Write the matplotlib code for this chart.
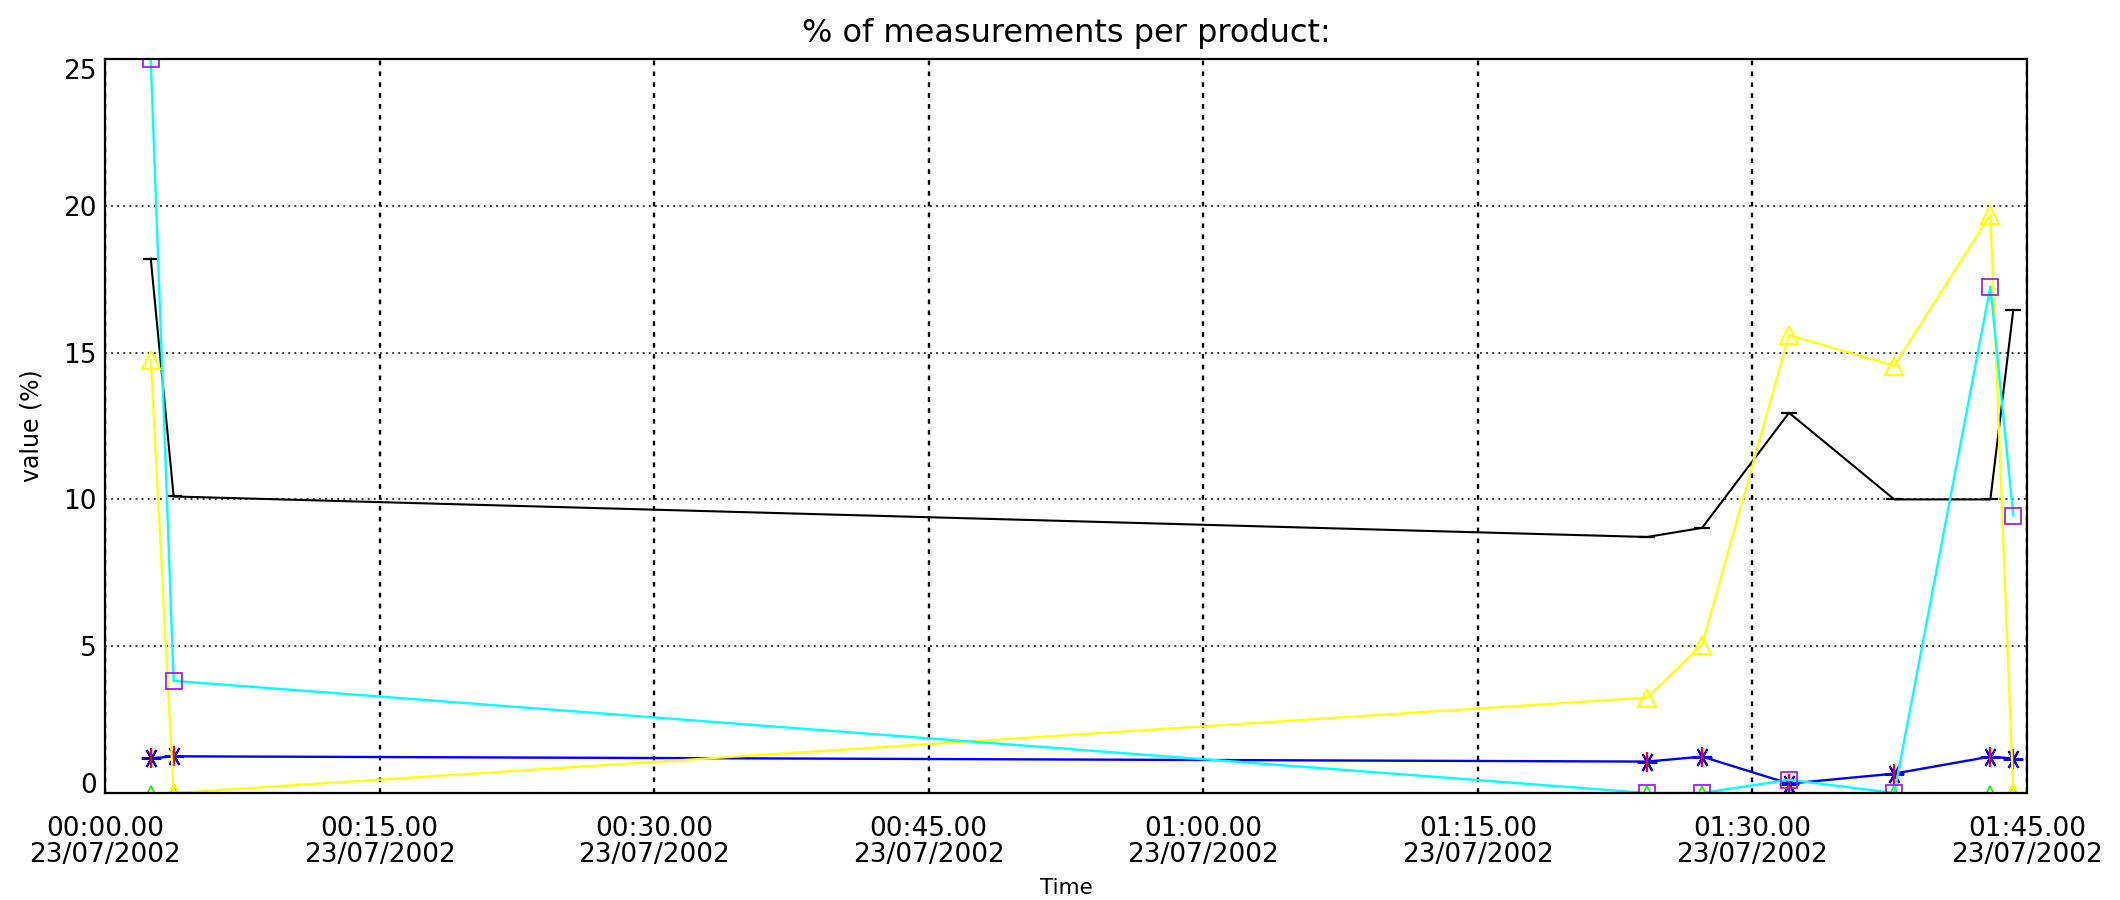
import numpy as np
import matplotlib
matplotlib.use("Agg")
import matplotlib.pyplot as plt

# Sample times (23 July 2002)
times = np.array([
    "2002-07-23T00:02:30", "2002-07-23T00:03:45", "2002-07-23T01:24:15",
    "2002-07-23T01:27:15", "2002-07-23T01:32:00", "2002-07-23T01:37:45",
    "2002-07-23T01:43:00", "2002-07-23T01:44:15",
], dtype="datetime64[s]").astype(object)

# Share of measurements (%) per product at each sample time
product_black = [18.2, 10.1, 8.72, 9.03, 12.95, 10.0, 10.0, 16.45]
product_green = [0.0, 0.0, 0.0, 0.0, 0.0, 0.0, 0.0, 0.0]
product_blue = [1.18, 1.25, 1.07, 1.24, 0.32, 0.66, 1.24, 1.17]
product_yellow = [14.75, 0.0, 3.25, 5.05, 15.6, 14.55, 19.7, 0.0]
product_cyan = [25.0, 3.82, 0.0, 0.0, 0.45, 0.0, 17.25, 9.45]

# Axis ticks
x_tick_times = np.array([
    "2002-07-23T00:00:00", "2002-07-23T00:15:00", "2002-07-23T00:30:00",
    "2002-07-23T00:45:00", "2002-07-23T01:00:00", "2002-07-23T01:15:00",
    "2002-07-23T01:30:00", "2002-07-23T01:45:00",
], dtype="datetime64[s]").astype(object)
x_tick_labels = [
    "00:00.00\n23/07/2002", "00:15.00\n23/07/2002", "00:30.00\n23/07/2002",
    "00:45.00\n23/07/2002", "01:00.00\n23/07/2002", "01:15.00\n23/07/2002",
    "01:30.00\n23/07/2002", "01:45.00\n23/07/2002",
]
y_ticks = [0, 5, 10, 15, 20, 25]

plt.rcParams["font.family"] = ["DejaVu Sans"]

fig = plt.figure(figsize=(21.2, 9), dpi=100)
ax = fig.add_axes([105 / 2120, 107 / 900, 1922 / 2120, 734 / 900])

ax.plot(times, product_black, color="black", lw=1.5,
        marker="_", ms=12, mew=1.6)
ax.plot(times, product_green, color="#00ff00", lw=2.0,
        marker="^", ms=10.5, mfc="none", mec="#00ff00", mew=1.2)
ax.plot(times, product_blue, color="#0000ff", lw=1.7,
        marker=(6, 2, 30), ms=14, mec="#0000ff", mew=1.5)
ax.plot(times, product_blue, linestyle="none",
        marker="|", ms=14, mec="#ff0000", mew=1.7)
ax.plot(times, product_yellow, color="#ffff00", lw=1.6,
        marker="^", ms=13, mfc="none", mec="#ffff00", mew=1.5)
ax.plot(times, product_cyan, color="#00ffff", lw=1.7)
ax.plot(times, product_cyan, linestyle="none",
        marker="s", ms=11.5, mfc="none", mec="#a020f0", mew=1.3)

ax.set_xlim(x_tick_times[0], x_tick_times[-1])
ax.set_ylim(0, 25)

ax.set_xticks(x_tick_times, x_tick_labels)
ax.set_yticks(y_ticks, [str(v) for v in y_ticks])
ax.tick_params(axis="both", length=0, labelsize=19)
ax.tick_params(axis="x", pad=16.5)
ax.tick_params(axis="y", pad=5.8)
for lbl in ax.get_xticklabels():
    lbl.set_linespacing(1.0)
ylbls = ax.get_yticklabels()
ylbls[0].set_verticalalignment("baseline")
ylbls[-1].set_verticalalignment("top")

ax.set_axisbelow(True)
ax.xaxis.grid(True, color="black", lw=1.7, linestyle=(0, (2.0, 2.6)))
ax.yaxis.grid(True, color="black", lw=1.1, linestyle=(0, (1.2, 2.8)))

for sp in ax.spines.values():
    sp.set_linewidth(1.6)
    sp.set_color("black")

ax.set_title("% of measurements per product:", fontsize=23, pad=12)

ax.set_xlabel("Time", fontsize=15.5)
ax.xaxis.label.set_verticalalignment("center")
ax.xaxis.set_label_coords(0.5, -(888 - 793) / 734)

ax.set_ylabel("value (%)", fontsize=17)
ax.yaxis.label.set_verticalalignment("center")
ax.yaxis.set_label_coords(-(105 - 32) / 1922, 0.5)

fig.savefig("out.png", dpi=100, facecolor="white")
